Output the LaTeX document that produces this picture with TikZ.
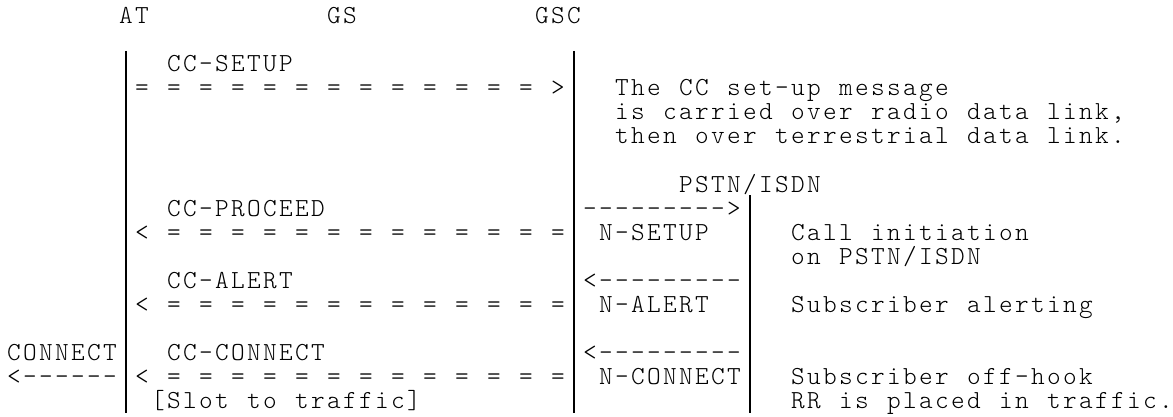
\documentclass[tikz,border=0pt]{standalone}
\usepackage{fontspec}
\ExplSyntaxOn
\NewDocumentCommand\cells{m}{\str_map_inline:nn {#1} {\makebox[12pt][c]{##1}}}
\ExplSyntaxOff
\begin{document}
\begin{tikzpicture}[x=0.75pt,y=-0.75pt,
  lbl/.style={font=\fontfamily{lmtt}\fontseries{l}\fontsize{19.5}{18}\selectfont, anchor=base west, inner sep=0pt, text=black},
  bar/.style={line width=1.5pt, draw=black}]
\useasboundingbox (0,0) rectangle (1173,417);
% column c -> left edge 5.7+16c ; row k -> baseline 24+24k
\newcommand\txt[4]{\node[lbl] (#1) at ({5.7+16*#2},{24+24*#3}) {\cells{#4}};}
% headings
\txt{at}{7}{0}{AT}
\txt{gs}{20}{0}{GS}
\txt{gsc}{33}{0}{GSC}
% messages AT <-> GSC
\txt{ccsetup}{10}{2}{CC-SETUP}
\txt{arrA}{8}{3}{= = = = = = = = = = = = = >}
\txt{note1}{38}{3}{The CC set-up message}
\txt{note2}{38}{4}{is carried over radio data link,}
\txt{note3}{38}{5}{then over terrestrial data link.}
\txt{pstn}{42}{7}{PSTN/ISDN}
\txt{ccproceed}{10}{8}{CC-PROCEED}
\txt{arrN1}{36}{8}{--------->}
\txt{arrB}{8}{9}{< = = = = = = = = = = = = =}
\txt{nsetup}{37}{9}{N-SETUP}
\txt{note4}{49}{9}{Call initiation}
\txt{note5}{49}{10}{on PSTN/ISDN}
\txt{ccalert}{10}{11}{CC-ALERT}
\txt{arrN2}{36}{11}{<---------}
\txt{arrC}{8}{12}{< = = = = = = = = = = = = =}
\txt{nalert}{37}{12}{N-ALERT}
\txt{note6}{49}{12}{Subscriber alerting}
\txt{connect}{0}{14}{CONNECT}
\txt{ccconnect}{10}{14}{CC-CONNECT}
\txt{arrN3}{36}{14}{<---------}
\txt{arrE}{0}{15}{<------}
\txt{arrD}{8}{15}{< = = = = = = = = = = = = =}
\txt{nconnect}{37}{15}{N-CONNECT}
\txt{note7}{49}{15}{Subscriber off-hook}
\txt{slot}{9}{16}{[Slot to traffic]}
\txt{note8}{49}{16}{RR is placed in traffic.}
% life lines
\coordinate (atTop) at (125.7,51);
\coordinate (atBot) at (125.7,413);
\coordinate (gscTop) at (573.7,51);
\coordinate (gscBot) at (573.7,413);
\coordinate (pstnTop) at (749.7,195);
\coordinate (pstnBot) at (749.7,413);
\draw[bar] (atTop) -- (atBot);
\draw[bar] (gscTop) -- (gscBot);
\draw[bar] (pstnTop) -- (pstnBot);
\end{tikzpicture}
\end{document}
